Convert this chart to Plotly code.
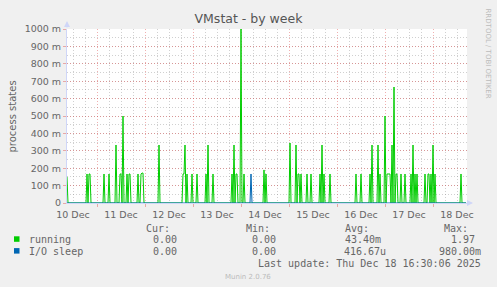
import pandas as pd
import plotly.graph_objects as go

# ---------------- data ----------------
start = "2025-12-10 09:00"
n_samples = 400            # 30-minute samples
step = "30min"

# non-zero 30-min averages of "running" (process states)
running_times = [
    "2025-12-10 09:00", "2025-12-10 19:00", "2025-12-10 20:00", "2025-12-10 20:30",
    "2025-12-11 03:30", "2025-12-11 06:00", "2025-12-11 09:30", "2025-12-11 11:30",
    "2025-12-11 12:00", "2025-12-11 13:00", "2025-12-11 15:00", "2025-12-11 16:00",
    "2025-12-11 16:30", "2025-12-11 20:30", "2025-12-11 22:00", "2025-12-11 22:30",
    "2025-12-11 23:00", "2025-12-12 07:00", "2025-12-12 19:00", "2025-12-12 19:30",
    "2025-12-12 20:00", "2025-12-12 21:00", "2025-12-12 23:30", "2025-12-13 02:00",
    "2025-12-13 06:30", "2025-12-13 07:30", "2025-12-13 10:00", "2025-12-13 19:30",
    "2025-12-13 20:30", "2025-12-13 21:30", "2025-12-13 22:00", "2025-12-14 00:00",
    "2025-12-14 01:30", "2025-12-14 11:30", "2025-12-14 12:30", "2025-12-15 00:30",
    "2025-12-15 03:30", "2025-12-15 04:30", "2025-12-15 05:00", "2025-12-15 06:00",
    "2025-12-15 09:00", "2025-12-15 11:00", "2025-12-15 15:30", "2025-12-15 16:30",
    "2025-12-15 17:30", "2025-12-15 20:30", "2025-12-16 09:30", "2025-12-16 12:00",
    "2025-12-16 16:30", "2025-12-16 17:30", "2025-12-16 20:30", "2025-12-16 21:30",
    "2025-12-17 00:00", "2025-12-17 01:00", "2025-12-17 01:30", "2025-12-17 02:00",
    "2025-12-17 02:30", "2025-12-17 03:30", "2025-12-17 04:30", "2025-12-17 05:30",
    "2025-12-17 06:00", "2025-12-17 08:00", "2025-12-17 10:00", "2025-12-17 13:00",
    "2025-12-17 14:00", "2025-12-17 15:00", "2025-12-17 16:00", "2025-12-17 20:00",
    "2025-12-17 21:30", "2025-12-17 22:00", "2025-12-17 23:00", "2025-12-18 00:00",
    "2025-12-18 01:00", "2025-12-18 14:00",
]
running_values = [
    0.150, 0.1667, 0.1667, 0.1667,
    0.1667, 0.1667, 0.3333, 0.1667,
    0.1667, 0.500, 0.1667, 0.1667,
    0.1667, 0.1667, 0.1667, 0.172,
    0.172, 0.3333, 0.1667, 0.1667,
    0.3333, 0.1667, 0.1667, 0.1667,
    0.1667, 0.3333, 0.1667, 0.1667,
    0.3333, 0.1667, 0.1667, 1.000,
    0.1667, 0.190, 0.1667, 0.345,
    0.3333, 0.1667, 0.1667, 0.1667,
    0.1667, 0.1667, 0.1667, 0.3333,
    0.1667, 0.1667, 0.1667, 0.1667,
    0.1667, 0.3333, 0.3333, 0.1667,
    0.500, 0.1667, 0.1667, 0.1667,
    0.1667, 0.3333, 0.6667, 0.1667,
    0.1667, 0.1667, 0.1667, 0.1667,
    0.3333, 0.1667, 0.1667, 0.1667,
    0.1667, 0.1667, 0.1667, 0.3333,
    0.1667, 0.1667,
]

# non-zero 30-min averages of "I/O sleep"
iosleep_times = ["2025-12-14 05:00"]
iosleep_values = [0.1667]

y_tick_vals = [0, 0.1, 0.2, 0.3, 0.4, 0.5, 0.6, 0.7, 0.8, 0.9, 1.0]
y_tick_text = ["0", "100 m", "200 m", "300 m", "400 m", "500 m",
               "600 m", "700 m", "800 m", "900 m", "1000 m"]

legend_names = ["running", "I/O sleep"]
legend_colors = ["#00CC00", "#0066B3"]
legend_cur = ["0.00", "0.00"]
legend_min = ["0.00", "0.00"]
legend_avg = ["43.40m", "416.67u"]
legend_max = ["1.97", "980.00m"]
last_update = "Last update: Thu Dec 18 16:30:06 2025"

# ---------------- series ----------------
idx = pd.date_range(start, periods=n_samples, freq=step)
running = pd.Series(0.0, index=idx)
running.loc[pd.to_datetime(running_times)] = running_values
iosleep = pd.Series(0.0, index=idx)
iosleep.loc[pd.to_datetime(iosleep_times)] = iosleep_values
x_end = idx[-1] + pd.Timedelta(step)

# ---------------- figure ----------------
W, H = 497, 287
L, R, T, B = 67, 467, 29, 203
PW, PH = R - L, B - T

def px(x):
    return (x - L) / PW

def py(y):
    return (B - y) / PH

FONT = "DejaVu Sans"
MONO = "DejaVu Sans Mono"
FC = "#666666"
GRID = "rgba(143,143,143,0.42)"
MGRID = "rgba(222,79,79,0.45)"
AXIS = "#CFD6F8"

fig = go.Figure()
fig.add_trace(go.Scatter(x=running.index, y=running.values, mode="lines",
                         line=dict(color=legend_colors[0], width=1),
                         name=legend_names[0], hoverinfo="skip"))
fig.add_trace(go.Scatter(x=iosleep.index, y=iosleep.values, mode="lines",
                         line=dict(color=legend_colors[1], width=1),
                         name=legend_names[1], hoverinfo="skip"))

fig.update_layout(
    width=W, height=H,
    margin=dict(l=L, r=W - R, t=T, b=H - B, pad=0),
    paper_bgcolor="#F0F0F0", plot_bgcolor="#FFFFFF",
    showlegend=False,
    font=dict(family=FONT, size=9.5, color=FC),
    title=dict(text="VMstat - by week", x=0.5, xanchor="center",
               y=1 - 19 / H, yanchor="middle",
               font=dict(family=FONT, size=12.5, color="#555555")),
)

fig.update_xaxes(
    type="date", range=[idx[0], x_end],
    tick0="2025-12-10", dtick=86400000, ticklabelmode="period",
    tickformat="%d %b",
    showgrid=True, gridcolor=MGRID, griddash="1px,2px", gridwidth=1,
    ticks="outside", ticklen=3, tickcolor=MGRID,
    minor=dict(dtick=6 * 3600000, tick0="2025-12-10", showgrid=True,
               gridcolor=GRID, griddash="1px,2px", gridwidth=1, ticks=""),
    showline=True, linecolor=AXIS, linewidth=1, zeroline=False,
    tickfont=dict(family=FONT, size=9.5, color=FC),
    fixedrange=True,
)
fig.update_yaxes(
    range=[0, 1], tickvals=y_tick_vals, ticktext=y_tick_text,
    showgrid=True, gridcolor=MGRID, griddash="1px,2px", gridwidth=1,
    ticks="outside", ticklen=3, tickcolor=MGRID,
    minor=dict(dtick=0.05, tick0=0, showgrid=True, gridcolor=GRID,
               griddash="1px,2px", gridwidth=1, ticks=""),
    showline=True, linecolor=AXIS, linewidth=1, zeroline=False,
    tickfont=dict(family=FONT, size=9.5, color=FC),
    fixedrange=True,
)

ann = []
# y-axis title
ann.append(dict(text="process states", x=px(11.5), y=0.5, xref="paper", yref="paper",
                textangle=-90, showarrow=False, xanchor="center", yanchor="middle",
                font=dict(family=FONT, size=10, color=FC)))
# rrdtool watermark
ann.append(dict(text="RRDTOOL / TOBI OETIKER", x=px(487.5), y=py(53), xref="paper",
                yref="paper", textangle=90, showarrow=False, xanchor="center",
                yanchor="middle", font=dict(family=FONT, size=7, color="#BBBBBB")))
# axis arrows
ann.append(dict(text="", x=0, y=py(21), xref="paper", yref="paper",
                ax=0, ay=8, showarrow=True, arrowhead=2, arrowsize=1.2,
                arrowwidth=1, arrowcolor=AXIS))
ann.append(dict(text="", x=px(473), y=0, xref="paper", yref="paper",
                ax=-8, ay=0, showarrow=True, arrowhead=2, arrowsize=1.2,
                arrowwidth=1, arrowcolor=AXIS))

# legend header
hdr_y = py(228.5)
for label, xe in [("Cur:", 172), ("Min:", 271.7), ("Avg:", 370.7), ("Max:", 470)]:
    ann.append(dict(text=label, x=px(xe), y=hdr_y, xref="paper", yref="paper",
                    showarrow=False, xanchor="right", yanchor="middle",
                    font=dict(family=MONO, size=10, color=FC)))

row_y = [239.5, 251.3]
cur_end = [179, 179]
min_end = [278, 278]
avg_end = [383, 387.7]
max_end = [476.7, 482.7]
shapes = []
for i in range(2):
    yy = py(row_y[i])
    shapes.append(dict(type="rect", xref="paper", yref="paper",
                       x0=px(14), x1=px(19.5), y0=py(row_y[i] - 3.2), y1=py(row_y[i] + 2.3),
                       fillcolor=legend_colors[i], line=dict(width=0)))
    ann.append(dict(text=legend_names[i], x=px(26.5), y=yy, xref="paper", yref="paper",
                    showarrow=False, xanchor="left", yanchor="middle",
                    font=dict(family=MONO, size=10, color=FC)))
    for txt, xe in [(legend_cur[i], cur_end[i]), (legend_min[i], min_end[i]),
                    (legend_avg[i], avg_end[i]), (legend_max[i], max_end[i])]:
        ann.append(dict(text=txt, x=px(xe), y=yy, xref="paper", yref="paper",
                        showarrow=False, xanchor="right", yanchor="middle",
                        font=dict(family=MONO, size=10, color=FC)))

ann.append(dict(text=last_update, x=px(482.5), y=py(263.8), xref="paper", yref="paper",
                showarrow=False, xanchor="right", yanchor="middle",
                font=dict(family=MONO, size=10, color=FC)))
ann.append(dict(text="Munin 2.0.76", x=px(248), y=py(276.5), xref="paper", yref="paper",
                showarrow=False, xanchor="center", yanchor="middle",
                font=dict(family=FONT, size=7, color="#BBBBBB")))

fig.update_layout(annotations=ann, shapes=shapes)
fig.write_html("out.html")
